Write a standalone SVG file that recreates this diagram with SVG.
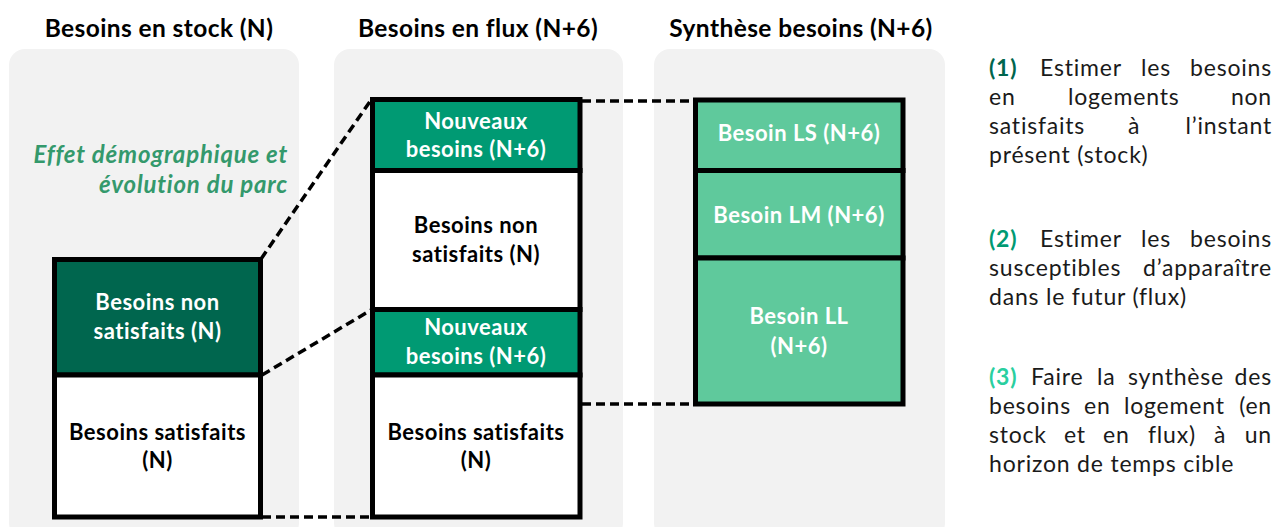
<svg xmlns="http://www.w3.org/2000/svg" width="1277" height="527" viewBox="0 0 1277 527">
<style>
.panel{fill:#F2F2F2}
.title{font-family:Lato,"Liberation Sans",sans-serif;font-weight:bold;font-size:24.5px;letter-spacing:0.4px;fill:#000;text-anchor:middle}
.box{stroke:#000;stroke-width:5;stroke-linejoin:miter}
.dark{fill:#00664E}
.mid{fill:#009A73}
.light{fill:#5FC99C}
.white{fill:#FFFFFF}
.lw{font-family:Lato,"Liberation Sans",sans-serif;font-weight:bold;font-size:22px;letter-spacing:0.5px;fill:#FFFFFF;text-anchor:middle}
.lb{font-family:Lato,"Liberation Sans",sans-serif;font-weight:bold;font-size:22px;letter-spacing:0.5px;fill:#000;text-anchor:middle}
.ital{font-family:Lato,"Liberation Sans",sans-serif;font-weight:bold;font-style:italic;font-size:24px;letter-spacing:0.8px;fill:#34996C;text-anchor:end}
.dash{stroke:#000;stroke-width:3.5;stroke-dasharray:9 5;fill:none}
.rt{font-family:Lato,"Liberation Sans",sans-serif;font-size:23px;letter-spacing:0.8px;fill:#1A1A1A}
.rte{font-family:Lato,"Liberation Sans",sans-serif;font-size:23px;letter-spacing:0.8px;fill:#1A1A1A;text-anchor:end}
.n1{font-weight:bold;fill:#00664E}
.n2{font-weight:bold;fill:#009A73}
.n3{font-weight:bold;fill:#2ACF9F}
</style>
<rect width="1277" height="527" fill="#FFFFFF"/>
<g id="panels">
<rect class="panel" x="9" y="49" width="290" height="490" rx="16"/>
<rect class="panel" x="334" y="49" width="289" height="490" rx="16"/>
<rect class="panel" x="654" y="49" width="291" height="490" rx="16"/>
</g>
<g id="titles">
<text class="title" x="159" y="37">Besoins en stock (N)</text>
<text class="title" x="478" y="37">Besoins en flux (N+6)</text>
<text class="title" x="801" y="37">Synthèse besoins (N+6)</text>
</g>
<g id="effet-label">
<text class="ital" x="288" y="163">Effet démographique et</text>
<text class="ital" x="288" y="193">évolution du parc</text>
</g>
<g id="connectors">
<line class="dash" x1="261" y1="259" x2="371" y2="100"/>
<line class="dash" x1="262" y1="375" x2="371" y2="310"/>
<line class="dash" x1="262" y1="517" x2="371" y2="517"/>
<line class="dash" x1="582" y1="101" x2="694" y2="101"/>
<line class="dash" x1="582" y1="404" x2="694" y2="404"/>
</g>
<g id="stock-non-satisfaits">
<rect class="box dark" x="54.5" y="259.5" width="206" height="115.5"/>
<text class="lw" x="157.5" y="310">Besoins non</text>
<text class="lw" x="157.5" y="339">satisfaits (N)</text>
</g>
<g id="stock-satisfaits">
<rect class="box white" x="54.5" y="375" width="206" height="142"/>
<text class="lb" x="157.5" y="440">Besoins satisfaits</text>
<text class="lb" x="157.5" y="468">(N)</text>
</g>
<g id="flux-nouveaux-1">
<rect class="box mid" x="372.5" y="99.5" width="207.5" height="71"/>
<text class="lw" x="476" y="129">Nouveaux</text>
<text class="lw" x="476" y="157">besoins (N+6)</text>
</g>
<g id="flux-non-satisfaits">
<rect class="box white" x="372.5" y="170.5" width="207.5" height="139"/>
<text class="lb" x="476" y="233">Besoins non</text>
<text class="lb" x="476" y="262">satisfaits (N)</text>
</g>
<g id="flux-nouveaux-2">
<rect class="box mid" x="372.5" y="309.5" width="207.5" height="65.5"/>
<text class="lw" x="476" y="335">Nouveaux</text>
<text class="lw" x="476" y="364">besoins (N+6)</text>
</g>
<g id="flux-satisfaits">
<rect class="box white" x="372.5" y="375" width="207.5" height="142"/>
<text class="lb" x="476" y="440">Besoins satisfaits</text>
<text class="lb" x="476" y="468">(N)</text>
</g>
<g id="synthese-ls">
<rect class="box light" x="695.5" y="100" width="207.5" height="70.5"/>
<text class="lw" x="799" y="141">Besoin LS (N+6)</text>
</g>
<g id="synthese-lm">
<rect class="box light" x="695.5" y="170.5" width="207.5" height="87.5"/>
<text class="lw" x="799" y="223">Besoin LM (N+6)</text>
</g>
<g id="synthese-ll">
<rect class="box light" x="695.5" y="258" width="207.5" height="146"/>
<text class="lw" x="799" y="324">Besoin LL</text>
<text class="lw" x="799" y="354">(N+6)</text>
</g>
<g id="step-1">
<text class="rt" y="76"><tspan class="n1" x="989">(1)</tspan><tspan x="1040">Estimer</tspan><tspan x="1141">les</tspan></text>
<text class="rte" x="1272" y="76">besoins</text>
<text class="rt" y="105"><tspan x="989">en</tspan><tspan x="1068">logements</tspan></text>
<text class="rte" x="1272" y="105">non</text>
<text class="rt" y="134"><tspan x="989">satisfaits</tspan><tspan x="1128">à</tspan></text>
<text class="rte" x="1272" y="134">l’instant</text>
<text class="rt" x="989" y="163">présent (stock)</text>
</g>
<g id="step-2">
<text class="rt" y="247"><tspan class="n2" x="989">(2)</tspan><tspan x="1040">Estimer</tspan><tspan x="1141">les</tspan></text>
<text class="rte" x="1272" y="247">besoins</text>
<text class="rt" x="989" y="276">susceptibles</text>
<text class="rte" x="1272" y="276">d’apparaître</text>
<text class="rt" x="989" y="305">dans le futur (flux)</text>
</g>
<g id="step-3">
<text class="rt" y="385"><tspan class="n3" x="989">(3)</tspan><tspan x="1031">Faire</tspan><tspan x="1097">la</tspan><tspan x="1128">synthèse</tspan></text>
<text class="rte" x="1272" y="385">des</text>
<text class="rt" y="414"><tspan x="989">besoins</tspan><tspan x="1084">en</tspan><tspan x="1124">logement</tspan></text>
<text class="rte" x="1272" y="414">(en</text>
<text class="rt" y="443"><tspan x="989">stock</tspan><tspan x="1064">et</tspan><tspan x="1103">en</tspan><tspan x="1148">flux)</tspan><tspan x="1214">à</tspan></text>
<text class="rte" x="1272" y="443">un</text>
<text class="rt" x="989" y="472">horizon de temps cible</text>
</g>
</svg>
